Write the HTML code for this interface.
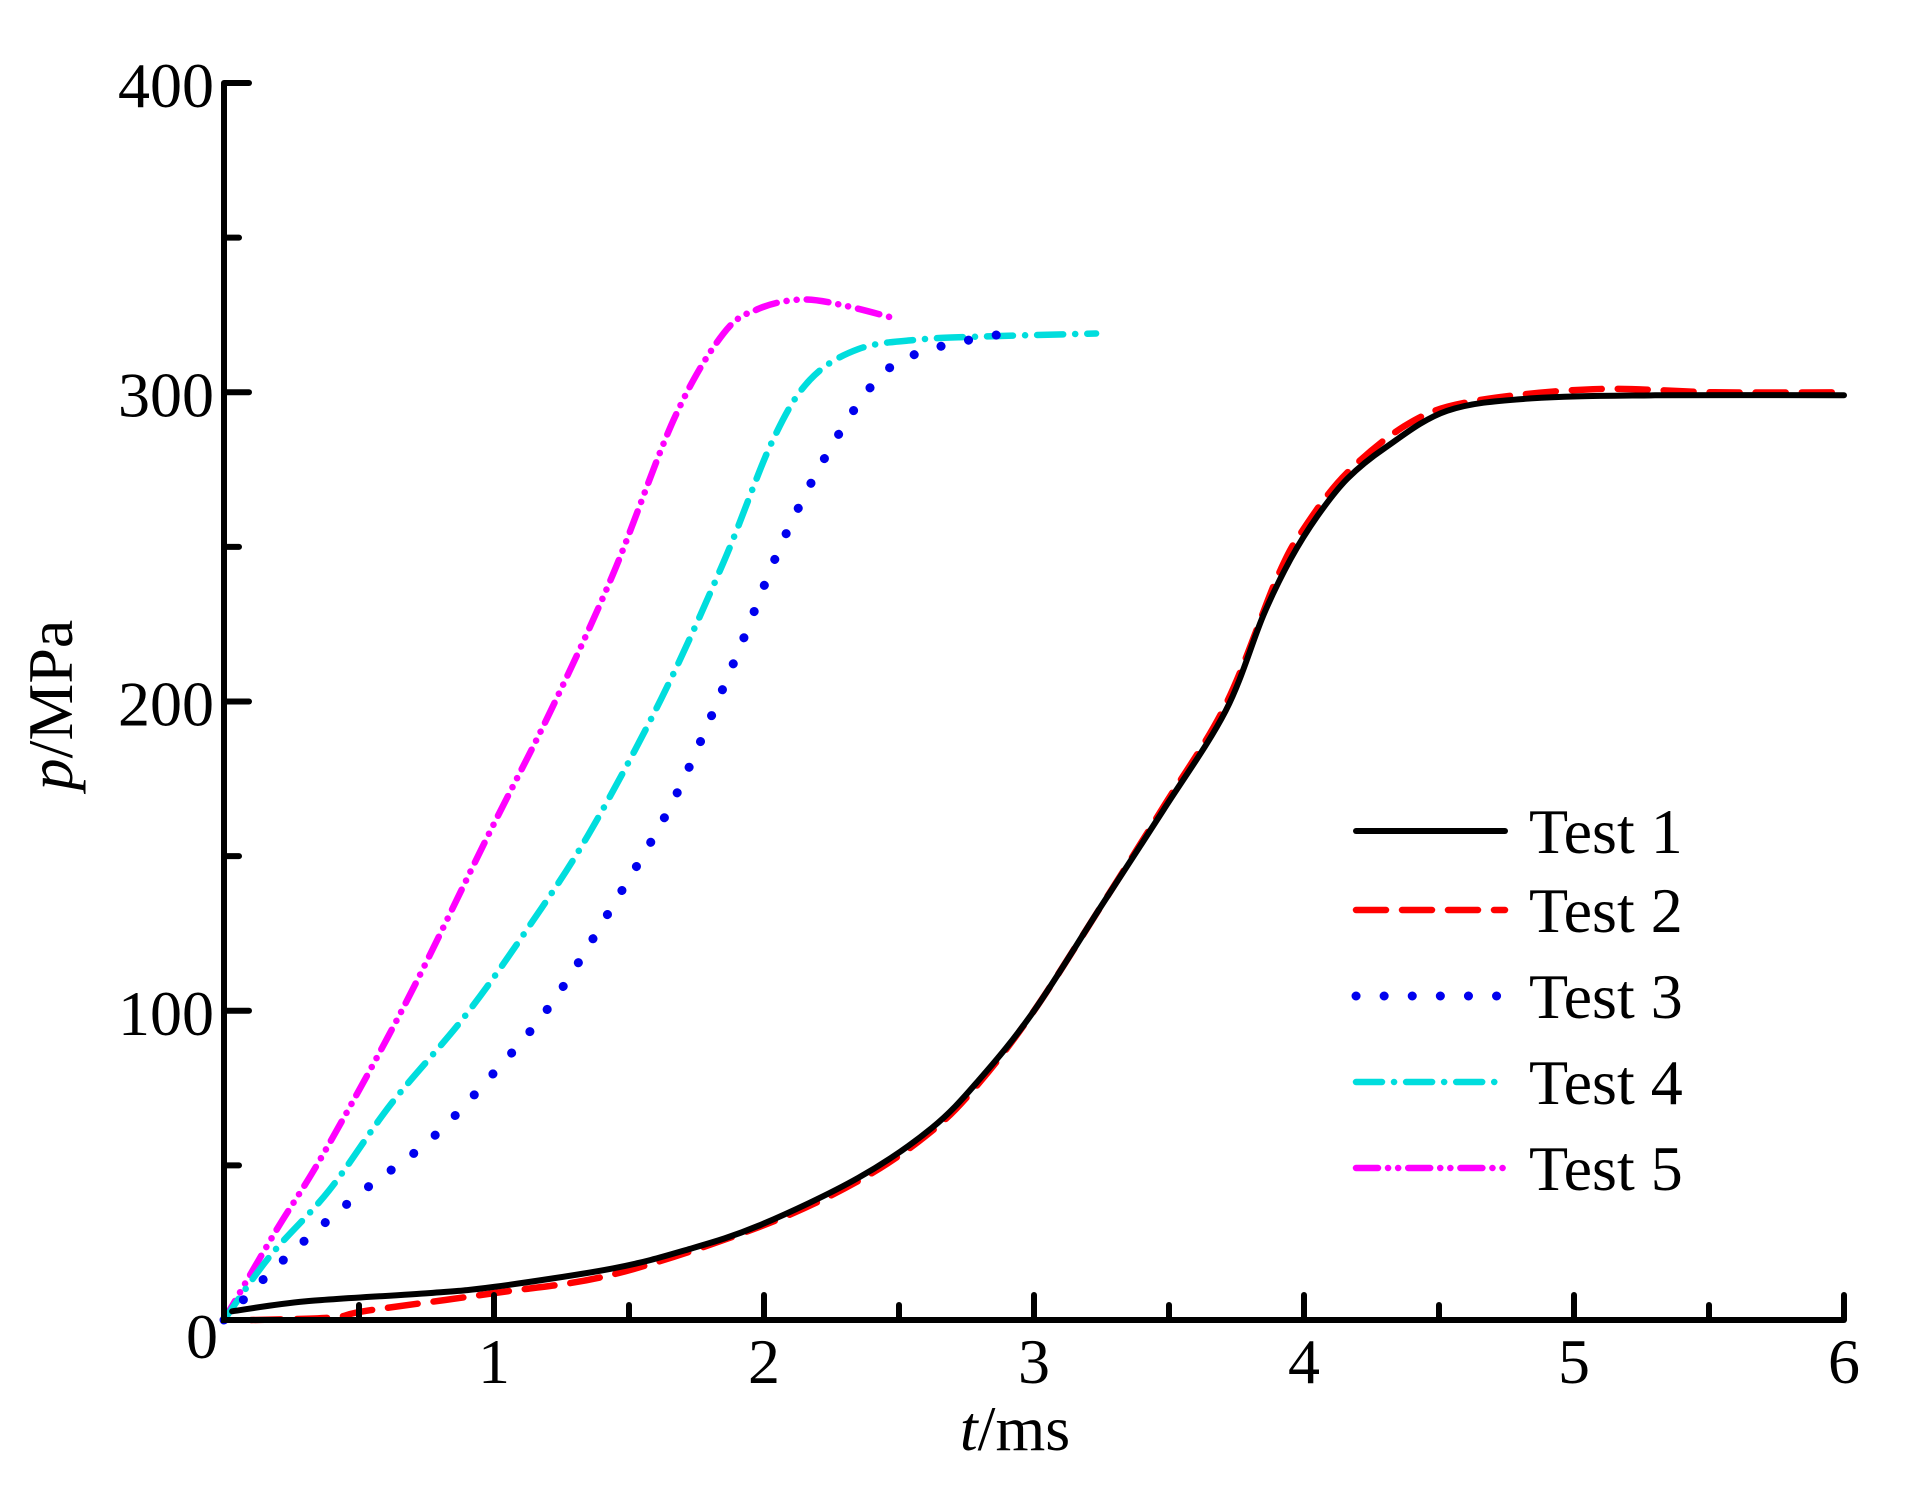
<!DOCTYPE html>
<html><head><meta charset="utf-8"><style>
html,body{margin:0;padding:0;background:#fff}
svg{display:block}
text{font-family:"Liberation Serif",serif;fill:#000}
</style></head><body>
<svg id="chart" width="1923" height="1495" viewBox="0 0 1923 1495" xmlns="http://www.w3.org/2000/svg">
<g id="series"></g>
<g id="axes"></g>
<g id="legend"></g>
<text transform="translate(72,705) rotate(-90)" text-anchor="middle" font-size="64"><tspan font-style="italic">p</tspan>/MPa</text>
<text x="1015" y="1450" text-anchor="middle" font-size="64"><tspan font-style="italic">t</tspan>/ms</text>
</svg>
<script>
const xTicks=[0,1,2,3,4,5,6];
const yTicks=[0,100,200,300,400];
const t1x=[0.03,0.3,0.76,1,1.44,1.71,1.98,2.35,2.62,2.8,3,3.25,3.48,3.71,3.85,3.95,4.05,4.16,4.3,4.53,4.84,5.3,6];
const t1y=[2.8,6,8.7,10.7,16.7,22.6,30.5,46,62,78,100,134,165,197,228,246,260,272,282,294,298,299,299];
const t2x=[0.1,0.4,0.53,1,1.44,1.98,2.35,2.62,2.8,3,3.25,3.48,3.71,3.9,4.0,4.16,4.39,4.62,5.07,5.52,6];
const t2y=[0,0.8,3,8.7,14.7,30,45,61,77,100,134,166,199,240,256,274,290,297,301,300,300];
const t3x=[0,0.21,0.49,0.76,0.98,1.21,1.44,1.67,1.89,2.07,2.26,2.44,2.62,2.89];
const t3y=[0,18.6,40,58,78,102,134,169,213,252,284,306,314,319];
const t4x=[0,0.17,0.39,0.62,0.89,1.12,1.35,1.62,1.85,2.03,2.17,2.35,2.57,2.8,3.23];
const t4y=[0,20.6,42,70,98,126,157,201,245,284,304,314,317,318,319];
const t5x=[0,0.19,0.37,0.67,0.98,1.21,1.44,1.67,1.85,1.98,2.14,2.3,2.48];
const t5y=[0,28.5,54,102,157,197,241,292,319,327,330,328,324];
const legendLabels=["Test 1","Test 2","Test 3","Test 4","Test 5"];

const NS="http://www.w3.org/2000/svg";
const X0=224,X1=1844,Y0=1320,Y1=83;
const sx=v=>X0+(v-0)/(6-0)*(X1-X0);
const sy=v=>Y0-(v-0)/(400-0)*(Y0-Y1);
const styles=[
 {c:"#000",d:"",w:6},
 {c:"#ff0000",d:"30 16",w:6.5},
 {c:"#0000ee",d:"0.1 28",w:9},
 {c:"#00dddd",d:"26 12 0.1 12",w:6.5},
 {c:"#ff00ff",d:"22 10 0.1 10 0.1 10",w:6.5}
];
const data=[[t1x,t1y],[t2x,t2y],[t3x,t3y],[t4x,t4y],[t5x,t5y]];
function mk(tag,attrs,parent){const e=document.createElementNS(NS,tag);for(const k in attrs)e.setAttribute(k,attrs[k]);parent.appendChild(e);return e;}
function smoothPath(px,py){
 let d="M"+px[0].toFixed(1)+","+py[0].toFixed(1);
 for(let i=0;i<px.length-1;i++){
  const p0x=px[Math.max(0,i-1)],p0y=py[Math.max(0,i-1)],p3x=px[Math.min(px.length-1,i+2)],p3y=py[Math.min(px.length-1,i+2)];
  const c1x=px[i]+(px[i+1]-p0x)/6,c1y=py[i]+(py[i+1]-p0y)/6;
  const c2x=px[i+1]-(p3x-px[i])/6,c2y=py[i+1]-(p3y-py[i])/6;
  d+=" C"+c1x.toFixed(1)+","+c1y.toFixed(1)+" "+c2x.toFixed(1)+","+c2y.toFixed(1)+" "+px[i+1].toFixed(1)+","+py[i+1].toFixed(1);
 }
 return d;
}
const sg=document.getElementById("series");
for(let s=4;s>=0;s--){
 const [xs,ys]=data[s];
 const p=mk("path",{d:smoothPath(xs.map(sx),ys.map(sy)),fill:"none",stroke:styles[s].c,"stroke-width":styles[s].w,"stroke-linecap":"round","stroke-linejoin":"round"},sg);
 if(styles[s].d)p.setAttribute("stroke-dasharray",styles[s].d);
 
 
}
const ax=document.getElementById("axes");
const axl=mk("path",{d:`M${X0},${Y1} L${X0},${Y0} L${X1},${Y0}`,fill:"none",stroke:"#000","stroke-width":6},ax);


for(let v=0;v<=400;v+=50){
 const major=v%100===0;
 const tk=mk("line",{x1:X0,x2:X0+(major?25:15),y1:sy(v),y2:sy(v),stroke:"#000","stroke-width":6,"stroke-linecap":"round"},ax);
 
 
}
for(let v=0.5;v<=6;v+=0.5){
 const major=Math.abs(v-Math.round(v))<1e-6;
 const tk=mk("line",{x1:sx(v),x2:sx(v),y1:Y0,y2:Y0-(major?25:15),stroke:"#000","stroke-width":6,"stroke-linecap":"round"},ax);
 
 
}
yTicks.forEach(v=>{
 const t=mk("text",{x:v===0?218:214,y:v===0?1358:sy(v)+24,"text-anchor":"end","font-size":64},ax);
 t.textContent=v;
 
 
});
xTicks.forEach(v=>{
 if(v===0)return;
 const t=mk("text",{x:sx(v),y:1383,"text-anchor":"middle","font-size":64},ax);
 t.textContent=v;
 
 
});
const lg=document.getElementById("legend");
const ly=[831,910,996,1082,1168];
legendLabels.forEach((lab,i)=>{
 const g=mk("g",{},lg);
 
 
 const l=mk("line",{x1:1356,x2:1505,y1:ly[i],y2:ly[i],stroke:styles[i].c,"stroke-width":styles[i].w,"stroke-linecap":"round"},g);
 if(styles[i].d)l.setAttribute("stroke-dasharray",styles[i].d);
 
 
 const t=mk("text",{x:1529,y:ly[i]+22,"font-size":64},g);
 t.textContent=lab;
 
 
});
</script>
</body></html>
